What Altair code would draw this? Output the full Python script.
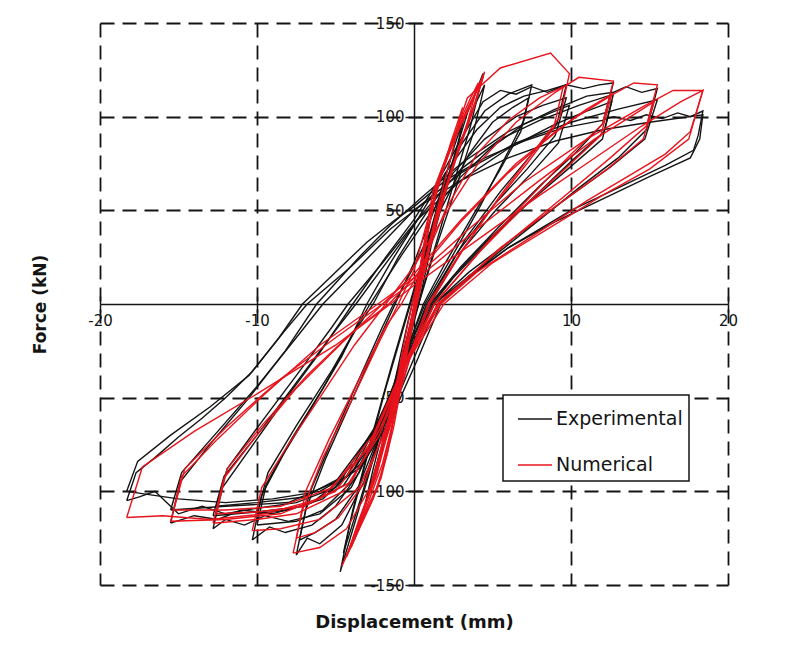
import altair as alt
import pandas as pd

INK = "#141414"
RED = "#e8131c"
FONT = "DejaVu Sans"

X_TICKS = [-20, -10, 10, 20]
Y_TICKS = [-150, -100, -50, 50, 100, 150]
X_TITLE = "Displacement (mm)"
Y_TITLE = "Force (kN)"
SERIES = ["Experimental", "Numerical"]

# ---- Experimental loops (displacement mm, force kN) ----
exp01_d = [-2.0, -1.5, -0.8, 0.0, 0.8, 1.5, 2.0, 1.5, 0.8, 0.2, -0.5, -1.2, -2.0]
exp01_f = [-72, -55, -30, -2, 28, 52, 70, 50, 25, 0, -22, -45, -72]

exp02_d = [-3.2, -2.6, -1.5, -0.4, 0.6, 1.8, 2.6, 3.2, 2.4, 1.2, 0.3, -0.8, -1.8, -2.6, -3.2]
exp02_f = [-110, -88, -52, -10, 25, 62, 85, 100, 72, 35, 0, -35, -68, -92, -110]

exp03_d = [-4.7, -4.1, -3.0, -1.8, -0.4, 1.0, 2.3, 3.4, 4.4, 3.6, 2.2, 0.8, 0.1, -1.2, -2.5, -3.6, -4.7]
exp03_f = [-143, -118, -82, -45, -5, 35, 72, 102, 123, 95, 55, 15, -5, -42, -80, -112, -143]

exp04_d = [-4.5, -3.9, -2.8, -1.4, 0.0, 1.4, 2.7, 3.7, 4.5, 3.8, 2.6, 1.2, 0.3, -0.9, -2.2, -3.4, -4.5]
exp04_f = [-133, -110, -74, -32, 8, 45, 80, 103, 117, 92, 60, 25, 0, -32, -70, -104, -133]

exp05_d = [-7.5, -6.9, -5.6, -4.0, -2.3, -1.2, 0.0, 1.5, 3.0, 4.5, 6.0, 7.5, 7.0, 5.8, 4.2, 2.4, 0.7,
           -0.5, -1.8, -3.2, -4.6, -6.0, -6.8, -7.5]
exp05_f = [-134, -110, -82, -52, -20, 0, 22, 55, 85, 103, 112, 117, 98, 78, 52, 25, 0,
           -25, -60, -95, -118, -128, -125, -134]

exp06_d = [-10.3, -9.7, -8.3, -6.5, -4.6, -3.0, -1.5, 0.0, 2.0, 4.0, 5.5, 7.0, 8.5, 9.7, 9.1, 7.5, 5.5,
           3.3, 0.9, -0.3, -1.8, -3.5, -5.0, -6.5, -8.2, -9.2, -10.3]
exp06_f = [-126, -102, -80, -55, -28, 0, 22, 42, 70, 93, 105, 111, 114, 117, 96, 80, 60,
           35, 0, -22, -58, -90, -108, -118, -122, -119, -126]

exp07_d = [-10.0, -9.4, -7.8, -5.8, -3.8, -2.6, -1.0, 0.5, 2.5, 4.5, 6.5, 8.2, 9.7, 9.0, 7.2, 5.0, 2.8,
           0.8, -0.5, -2.2, -4.0, -5.8, -7.5, -10.0]
exp07_f = [-118, -96, -72, -45, -15, 0, 25, 45, 70, 88, 100, 106, 110, 90, 72, 52, 28,
           0, -28, -65, -95, -110, -116, -118]

exp08_d = [-12.8, -12.2, -10.5, -8.3, -6.0, -3.9, -1.8, 0.0, 1.5, 3.0, 4.4, 5.5, 6.5, 7.5, 8.5, 9.7,
           10.8, 11.8, 12.7, 12.0, 10.2, 8.0, 5.5, 3.0, 1.1, -0.3, -2.0, -4.0, -6.0, -8.0, -9.5,
           -10.8, -12.0, -12.8]
exp08_f = [-120, -98, -78, -52, -26, 0, 25, 45, 65, 88, 108, 114, 112, 116, 113, 117,
           115, 117, 118, 96, 80, 63, 42, 20, 0, -25, -65, -98, -112, -116, -113,
           -118, -115, -120]

exp09_d = [-12.8, -12.1, -10.0, -7.5, -5.0, -3.7, -1.5, 0.5, 3.0, 5.5, 8.0, 10.5, 12.7, 12.1, 10.0,
           7.5, 4.8, 2.5, 1.0, -0.5, -2.4, -4.5, -7.0, -10.0, -12.8]
exp09_f = [-113, -92, -70, -42, -14, 0, 25, 48, 72, 88, 98, 106, 112, 92, 76,
           56, 35, 15, 0, -30, -70, -97, -108, -111, -113]

exp10_d = [-15.5, -14.9, -13.0, -10.5, -8.2, -6.2, -3.5, -1.5, 0.5, 3.0, 6.0, 9.0, 11.0, 12.7, 13.5,
           14.5, 15.5, 14.8, 13.0, 10.5, 8.0, 5.0, 1.3, -0.3, -2.2, -4.3, -6.5, -9.0, -11.0, -12.5,
           -14.0, -15.5]
exp10_f = [-117, -95, -75, -50, -25, 0, 25, 42, 57, 75, 92, 104, 111, 113, 116,
           113, 115, 93, 78, 62, 45, 25, 0, -25, -62, -92, -106, -112, -110, -115,
           -113, -117]

exp11_d = [-15.5, -14.8, -12.5, -10.0, -7.5, -5.8, -3.0, 0.0, 3.0, 6.5, 10.0, 13.0, 15.5, 14.7, 12.5,
           9.5, 6.5, 3.5, 1.3, -0.5, -2.6, -5.0, -8.0, -12.0, -15.5]
exp11_f = [-110, -90, -68, -44, -18, 0, 24, 50, 70, 86, 97, 104, 109, 88, 73,
           55, 36, 17, 0, -30, -68, -95, -106, -108, -110]

exp12_d = [-18.3, -17.7, -16.5, -15.0, -13.5, -12.0, -10.3, -8.6, -7.1, -5.0, -3.0, -1.2, 0.0, 2.0,
           4.5, 7.0, 9.5, 12.0, 12.7, 13.8, 14.8, 15.8, 16.8, 17.6, 18.4, 18.1, 17.8, 16.0, 14.0,
           12.0, 10.0, 8.0, 6.0, 3.8, 1.5, 0.2, -1.3, -3.0, -5.0, -7.5, -10.0, -12.0, -13.5, -15.0,
           -16.5, -17.5, -18.3]
exp12_f = [-105, -90, -82, -71, -61, -50, -36, -18, 0, 17, 33, 45, 52, 66,
           78, 87, 94, 98, 100, 98, 101, 99, 102, 100, 103, 90, 82, 74, 66,
           58, 50, 40, 30, 16, 0, -25, -55, -82, -98, -106, -109, -112, -108, -112,
           -100, -103, -105]

exp13_d = [-18.3, -17.6, -15.5, -13.0, -10.5, -8.3, -6.8, -4.0, -1.5, 0.5, 3.0, 6.0, 9.0, 12.0, 15.0,
           18.4, 18.2, 17.6, 15.0, 12.0, 9.0, 6.0, 3.5, 1.7, 0.2, -1.5, -3.5, -6.0, -9.0, -12.0,
           -15.0, -18.3]
exp13_f = [-100, -84, -70, -55, -38, -15, 0, 20, 40, 53, 66, 78, 87, 93, 97,
           101, 88, 78, 68, 56, 44, 30, 15, 0, -30, -62, -88, -100, -104, -106,
           -104, -100]

exp14_d = [-7.3, -6.7, -5.2, -3.5, -2.0, -1.3, 0.0, 1.8, 3.5, 5.0, 6.3, 7.3, 6.8, 5.5, 3.8, 2.0, 0.6,
           -0.6, -2.0, -3.5, -5.0, -6.3, -7.3]
exp14_f = [-126, -102, -72, -40, -12, 0, 20, 52, 80, 97, 105, 110, 92, 72, 48, 22, 0,
           -28, -65, -97, -115, -122, -126]

exp15_d = [-10.0, -9.3, -7.5, -5.2, -3.5, -2.8, -0.8, 1.0, 3.0, 5.0, 7.0, 8.7, 9.9, 9.2, 7.5, 5.2, 3.0,
           1.0, -0.4, -2.0, -3.8, -5.8, -8.0, -10.0]
exp15_f = [-112, -90, -65, -35, -10, 0, 26, 48, 68, 84, 96, 102, 106, 86, 70, 50, 28,
           0, -24, -58, -88, -104, -110, -112]

exp16_d = [-12.6, -11.9, -9.8, -7.3, -5.2, -4.2, -2.0, 0.2, 3.0, 6.0, 9.0, 11.0, 12.6, 12.0, 9.8,
           7.3, 4.8, 2.5, 1.2, -0.3, -2.2, -4.5, -7.0, -10.0, -12.6]
exp16_f = [-108, -88, -64, -36, -12, 0, 22, 45, 66, 83, 96, 103, 108, 88, 72,
           54, 34, 14, 0, -26, -62, -92, -103, -106, -108]

# ---- Numerical loops ----
num01_d = [-4.3, -3.4, -2.3, -1.5, -0.5, 0.3, 1.2, 2.5, 3.5, 4.4, 3.6, 2.4, 1.2, 0.3, -0.6, -1.6,
           -2.6, -3.5, -4.3]
num01_f = [-135, -118, -98, -70, -25, 15, 60, 88, 106, 121, 100, 72, 40, 8, -28, -65,
           -95, -115, -135]

num02_d = [-3.8, -3.0, -2.0, -1.1, -0.2, 0.7, 1.6, 2.8, 3.6, 4.1, 3.3, 2.1, 0.9, -0.1, -1.0, -2.0,
           -3.0, -3.8]
num02_f = [-126, -108, -85, -55, -12, 30, 68, 95, 110, 118, 94, 62, 28, -5, -40, -78,
           -105, -126]

num03_d = [-4.6, -3.7, -2.6, -1.7, -0.8, 0.0, 0.9, 2.1, 3.2, 4.3, 3.9, 2.9, 1.6, 0.6, -0.3, -1.3,
           -2.3, -3.3, -4.1, -4.6]
num03_f = [-140, -124, -104, -80, -40, 0, 45, 80, 100, 119, 108, 85, 52, 18, -15, -52,
           -88, -112, -130, -140]

num04_d = [-7.7, -7.1, -5.8, -4.0, -2.2, -1.0, 0.0, 1.2, 2.4, 3.4, 5.5, 8.7, 9.9, 9.3, 7.5, 5.5,
           3.2, 1.0, -0.3, -1.5, -2.8, -4.3, -6.0, -7.7]
num04_f = [-133, -110, -82, -52, -20, 0, 18, 55, 85, 110, 126, 134, 123, 100, 80, 58,
           30, 0, -30, -65, -98, -120, -130, -133]

num05_d = [-10.3, -9.7, -8.0, -6.0, -3.8, -1.8, 0.0, 2.0, 4.0, 6.5, 9.0, 10.5, 12.7, 12.0, 10.0,
           7.5, 5.0, 1.3, -0.3, -1.8, -3.5, -6.0, -8.5, -10.3]
num05_f = [-121, -98, -75, -50, -22, 0, 20, 48, 74, 97, 113, 121, 119, 96, 80,
           58, 36, 0, -30, -68, -98, -115, -120, -121]

num06_d = [-12.8, -12.1, -10.0, -7.5, -4.5, -2.0, 0.0, 3.0, 6.5, 10.0, 12.7, 14.0, 15.5, 14.8, 12.5,
           9.5, 6.0, 1.5, -0.4, -2.2, -4.5, -7.5, -10.0, -12.8]
num06_f = [-117, -93, -70, -45, -20, 0, 16, 45, 75, 98, 112, 118, 117, 95, 78,
           57, 33, 0, -30, -70, -100, -112, -115, -117]

num07_d = [-15.5, -14.8, -12.5, -9.5, -6.0, -2.3, 0.0, 3.5, 7.0, 11.0, 14.5, 16.5, 18.4, 17.6, 16.0,
           14.0, 11.0, 7.5, 4.0, 1.7, -0.4, -2.6, -5.0, -8.5, -12.0, -15.5]
num07_f = [-116, -92, -72, -48, -22, 0, 14, 40, 65, 88, 105, 114, 114, 92, 80,
           70, 55, 36, 17, 0, -30, -72, -100, -112, -115, -116]

num08_d = [-18.3, -17.3, -14.0, -10.0, -5.0, -1.5, 0.0, 2.5, 5.0, 8.0, 11.0, 14.5, 17.0, 18.4, 17.5,
           15.0, 12.0, 8.5, 5.0, 1.9, -0.5, -3.0, -6.0, -9.5, -13.0, -16.0, -18.3]
num08_f = [-114, -87, -68, -48, -22, 0, 10, 25, 40, 58, 75, 95, 108, 114, 88,
           72, 58, 40, 22, 0, -32, -78, -104, -112, -115, -113, -114]

num09_d = [-7.5, -6.9, -5.4, -3.6, -1.8, -0.8, 0.5, 2.0, 4.0, 6.0, 8.0, 9.5, 8.9, 7.2, 5.2, 3.0,
           0.9, -0.4, -1.8, -3.2, -4.8, -6.3, -7.5]
num09_f = [-125, -100, -72, -42, -12, 0, 20, 50, 80, 98, 110, 116, 94, 75, 54, 28,
           0, -30, -66, -96, -114, -122, -125]

num10_d = [-12.6, -11.9, -9.6, -6.8, -3.8, -1.6, 0.0, 3.0, 6.0, 9.0, 11.0, 12.6, 11.9, 9.6, 7.0,
           4.2, 1.3, -0.4, -2.0, -4.0, -7.0, -10.0, -12.6]
num10_f = [-112, -88, -64, -38, -14, 0, 14, 44, 70, 92, 104, 112, 90, 72, 52,
           28, 0, -28, -64, -95, -108, -111, -112]

num11_d = [-15.3, -14.6, -12.0, -8.5, -5.0, -2.0, 0.0, 4.0, 8.0, 11.5, 13.8, 15.3, 14.6, 12.3, 9.0,
           5.5, 1.6, -0.5, -2.6, -5.2, -8.5, -12.0, -15.3]
num11_f = [-110, -88, -66, -40, -18, 0, 12, 40, 66, 88, 100, 108, 88, 72, 52,
           30, 0, -30, -70, -98, -108, -110, -110]

num12_d = [-3.0, -2.3, -1.4, -0.5, 0.4, 1.3, 2.3, 3.1, 2.4, 1.4, 0.5, -0.4, -1.3, -2.2, -3.0]
num12_f = [-105, -85, -55, -15, 20, 55, 85, 105, 80, 48, 15, -18, -50, -80, -105]

num13_d = [-4.0, -3.2, -2.1, -1.3, -0.3, 0.5, 1.4, 2.7, 3.7, 4.5, 3.8, 2.6, 1.4, 0.5, -0.4, -1.4,
           -2.4, -3.3, -4.0]
num13_f = [-130, -113, -93, -66, -20, 20, 63, 90, 108, 124, 104, 76, 44, 12, -24, -60,
           -92, -112, -130]

exp_loops = [(exp01_d, exp01_f), (exp02_d, exp02_f), (exp03_d, exp03_f), (exp04_d, exp04_f),
             (exp05_d, exp05_f), (exp14_d, exp14_f), (exp06_d, exp06_f), (exp07_d, exp07_f),
             (exp15_d, exp15_f), (exp08_d, exp08_f), (exp09_d, exp09_f), (exp16_d, exp16_f),
             (exp10_d, exp10_f), (exp11_d, exp11_f), (exp12_d, exp12_f), (exp13_d, exp13_f)]
num_loops = [(num12_d, num12_f), (num01_d, num01_f), (num02_d, num02_f), (num03_d, num03_f),
             (num13_d, num13_f), (num04_d, num04_f), (num09_d, num09_f), (num05_d, num05_f),
             (num10_d, num10_f), (num06_d, num06_f), (num11_d, num11_f), (num07_d, num07_f),
             (num08_d, num08_f)]


def build(loops, name, tag):
    rows = []
    for i, (ds, fs) in enumerate(loops):
        assert len(ds) == len(fs), (tag, i, len(ds), len(fs))
        for k, (d, f) in enumerate(zip(ds, fs)):
            rows.append({"d": d, "f": f, "series": name, "loop": f"{tag}{i:02d}", "k": k})
    return pd.DataFrame(rows)


exp_df = build(exp_loops, SERIES[0], "E")
num_df = build(num_loops, SERIES[1], "N")

x_scale = alt.Scale(domain=[-20, 20], nice=False, zero=False)
y_scale = alt.Scale(domain=[-150, 150], nice=False, zero=False)
color_scale = alt.Scale(domain=SERIES, range=[INK, RED])

main_x_axis = alt.Axis(
    orient="bottom", offset=-281, values=X_TICKS, labelExpr="toString(datum.value)",
    grid=True, gridDash=[14, 8], gridColor=INK, gridWidth=1.8, gridOpacity=1,
    domain=True, domainColor=INK, domainWidth=1.5,
    ticks=True, tickColor=INK, tickSize=8, tickWidth=1.5,
    labelFont=FONT, labelFontSize=15, labelColor=INK, labelPadding=1,
    labelFlush=False, labelOverlap=False, labelBound=False,
    title=X_TITLE, titleFont=FONT, titleFontSize=18, titleFontWeight="bold", titleColor=INK,
    titleX=314, titleY=318, titleAlign="center", titleBaseline="middle",
)
main_y_axis = alt.Axis(
    orient="left", offset=-314, values=Y_TICKS, labelExpr="toString(datum.value)",
    grid=True, gridDash=[14, 8], gridColor=INK, gridWidth=1.8, gridOpacity=1,
    domain=True, domainColor=INK, domainWidth=1.5,
    ticks=True, tickColor=INK, tickSize=9, tickWidth=1.5,
    labelFont=FONT, labelFontSize=15, labelColor=INK, labelPadding=1,
    labelFlush=False, labelOverlap=False, labelBound=False,
    title=Y_TITLE, titleFont=FONT, titleFontSize=17, titleFontWeight="bold", titleColor=INK,
    titleX=-374, titleY=281, titleAngle=270, titleAlign="center", titleBaseline="middle",
)
top_x_axis = alt.Axis(
    orient="top", offset=-281, values=X_TICKS, grid=False, domain=False, labels=False,
    ticks=True, tickColor=INK, tickSize=8, tickWidth=1.5, title=None,
)
right_y_axis = alt.Axis(
    orient="right", offset=-314, values=Y_TICKS, grid=False, domain=False, labels=False,
    ticks=True, tickColor=INK, tickSize=9, tickWidth=1.5, title=None,
)

legend = alt.Legend(
    orient="none", legendX=403, legendY=372, title=None, direction="vertical",
    symbolType="stroke", symbolSize=1156, symbolStrokeWidth=1.5, symbolOffset=8,
    labelFont=FONT, labelFontSize=19, labelColor=INK, labelOffset=3,
    rowPadding=18, padding=6, strokeColor=INK, fillColor="white",
)

exp_chart = alt.Chart(exp_df).mark_line(strokeWidth=1.4).encode(
    x=alt.X("d:Q", scale=x_scale, axis=main_x_axis),
    y=alt.Y("f:Q", scale=y_scale, axis=main_y_axis),
    color=alt.Color("series:N", scale=color_scale, legend=legend),
    detail="loop:N",
    order="k:Q",
)

num_chart = alt.Chart(num_df).mark_line(strokeWidth=1.4).encode(
    x=alt.X("d:Q", scale=x_scale, axis=top_x_axis),
    y=alt.Y("f:Q", scale=y_scale, axis=right_y_axis),
    color=alt.Color("series:N", scale=color_scale, legend=legend),
    detail="loop:N",
    order="k:Q",
)

chart = (
    alt.layer(exp_chart, num_chart)
    .resolve_axis(x="independent", y="independent")
    .properties(
        width=628, height=562,
        autosize=alt.AutoSizeParams(type="none"),
        padding={"left": 92, "top": 15, "right": 60, "bottom": 60},
    )
    .configure_view(strokeWidth=0)
    .configure_legend(strokeWidth=1.5)
)

chart.save("out.html", embed_options={"renderer": "svg", "actions": False})
